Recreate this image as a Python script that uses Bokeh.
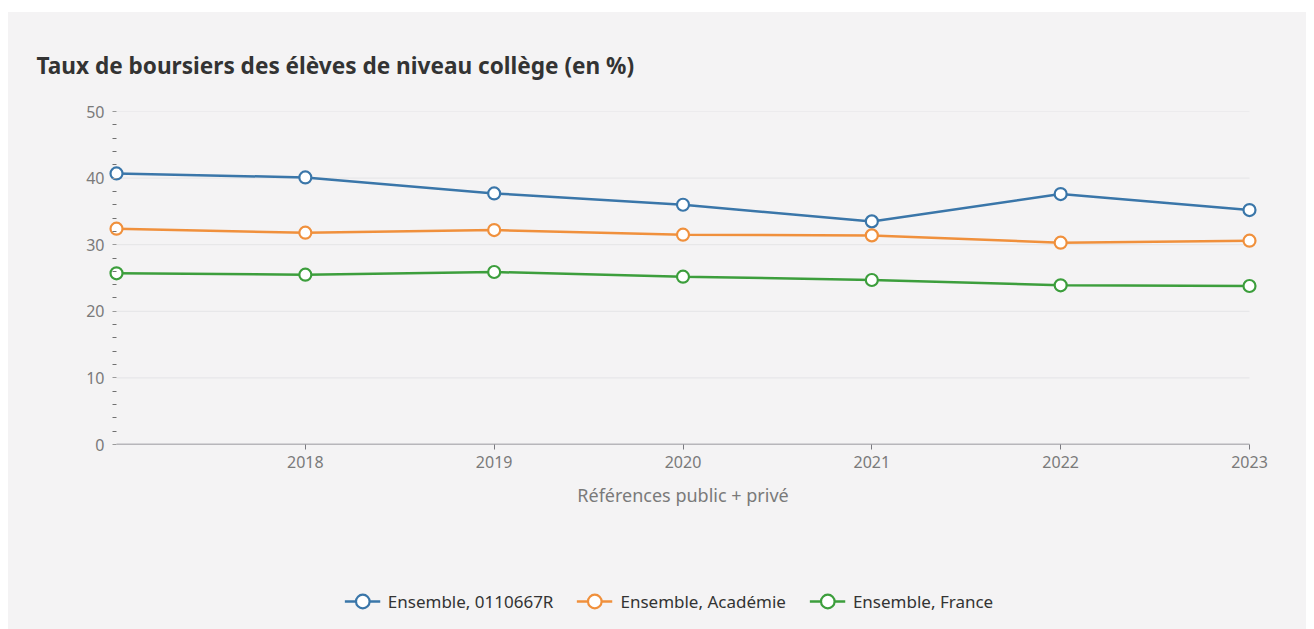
from bokeh.plotting import figure
from bokeh.layouts import column
from bokeh.models import Range1d, FixedTicker, Legend, LegendItem
from bokeh.embed import file_html
from bokeh.resources import INLINE

years = [2017, 2018, 2019, 2020, 2021, 2022, 2023]
tick_years = [2018, 2019, 2020, 2021, 2022, 2023]
y_ticks = [0, 10, 20, 30, 40, 50]
etab = [40.7, 40.1, 37.7, 36.0, 33.5, 37.6, 35.2]
academie = [32.4, 31.8, 32.2, 31.5, 31.4, 30.3, 30.6]
france = [25.7, 25.5, 25.9, 25.2, 24.7, 23.9, 23.8]
names = ["Ensemble, 0110667R", "Ensemble, Académie", "Ensemble, France"]
colors = ["#3a76a9", "#f0903c", "#3c9e3c"]
series = [etab, academie, france]

BG = "#f4f3f4"
FONT = "Noto Sans"
PAD = 0.0424  # room so edge markers are not clipped

p = figure(width=1298, height=561, output_backend="svg", toolbar_location=None,
           x_range=Range1d(years[0] - PAD, years[-1] + PAD), y_range=Range1d(0, 50),
           min_border_left=100, min_border_right=49, min_border_top=99, min_border_bottom=129,
           background_fill_color=BG, border_fill_color=BG, outline_line_color=None)

p.xgrid.grid_line_color = None
p.ygrid.grid_line_color = None

# grid lines and base line spanning exactly the data years
p.segment(x0=[years[0]] * 5, x1=[years[-1]] * 5, y0=y_ticks[1:], y1=y_ticks[1:],
          line_color="#e4e4e6", line_width=1)
p.segment(x0=[years[0]], x1=[years[-1]], y0=[y_ticks[0]], y1=[y_ticks[0]],
          line_color="#7a7a80", line_width=1.5)

p.xaxis.ticker = FixedTicker(ticks=tick_years)
p.xaxis.axis_line_color = None
p.xaxis.major_tick_line_color = "#7a7a80"
p.xaxis.major_tick_out = 5
p.xaxis.major_tick_in = 0
p.xaxis.minor_tick_line_color = None
p.xaxis.major_label_text_font = FONT
p.xaxis.major_label_text_font_size = "16px"
p.xaxis.major_label_text_color = "#7a7a7a"
p.xaxis.major_label_standoff = 6
p.xaxis.axis_label = "Références public + privé"
p.xaxis.axis_label_text_font = FONT
p.xaxis.axis_label_text_font_size = "18px"
p.xaxis.axis_label_text_font_style = "normal"
p.xaxis.axis_label_text_color = "#7a7a7a"
p.xaxis.axis_label_standoff = 12

p.yaxis.ticker = FixedTicker(ticks=y_ticks,
                             minor_ticks=[v for v in range(0, 51, 2) if v % 10])
p.yaxis.axis_line_color = None
p.yaxis.major_tick_line_color = "#9a9a9a"
p.yaxis.major_tick_out = -4
p.yaxis.major_tick_in = 8
p.yaxis.minor_tick_line_color = "#707070"
p.yaxis.minor_tick_out = -4
p.yaxis.minor_tick_in = 8
p.yaxis.major_label_text_font = FONT
p.yaxis.major_label_text_font_size = "16px"
p.yaxis.major_label_text_color = "#7a7a7a"
p.yaxis.major_label_standoff = 8

for vals, col in zip(series, colors):
    p.line(years, vals, line_color=col, line_width=2.5)
    p.scatter(years, vals, size=12, marker="circle", line_color=col,
              line_width=2.2, fill_color="white")

p.title.text = "Taux de boursiers des élèves de niveau collège (en %)"
p.title.text_font = FONT
p.title.text_font_size = "22.6px"
p.title.text_font_style = "bold"
p.title.text_color = "#333333"
p.title.align = "left"
p.title.vertical_align = "top"
p.title.offset = -72
p.title.standoff = 58

# legend strip below the chart
leg = figure(width=1270, height=56, output_backend="svg", toolbar_location=None,
             x_range=Range1d(0, 1), y_range=Range1d(0, 1),
             x_axis_location=None, y_axis_location=None,
             min_border_left=0, min_border_right=0, min_border_top=0, min_border_bottom=0,
             background_fill_color=BG, border_fill_color=BG, outline_line_color=None)
leg.grid.grid_line_color = None

items = []
for vals, name, col in zip(series, names, colors):
    ln = leg.line(years, vals, line_color=col, line_width=2.5)
    sc = leg.scatter(years, vals, size=12, marker="circle", line_color=col,
                     line_width=2.2, fill_color="white")
    items.append(LegendItem(label=name, renderers=[ln, sc]))

legend = Legend(items=items, orientation="horizontal", location="center",
                background_fill_alpha=0, border_line_color=None,
                label_text_font=FONT, label_text_font_size="17px",
                label_text_color="#333333", glyph_width=36, glyph_height=34,
                spacing=23, label_standoff=8, margin=0, padding=0)
leg.add_layout(legend, "center")

layout = column(p, leg, spacing=0)
layout.margin = (12, 8, 0, 8)
layout.styles = {"background-color": BG}
open("out.html", "w").write(file_html(layout, INLINE))
